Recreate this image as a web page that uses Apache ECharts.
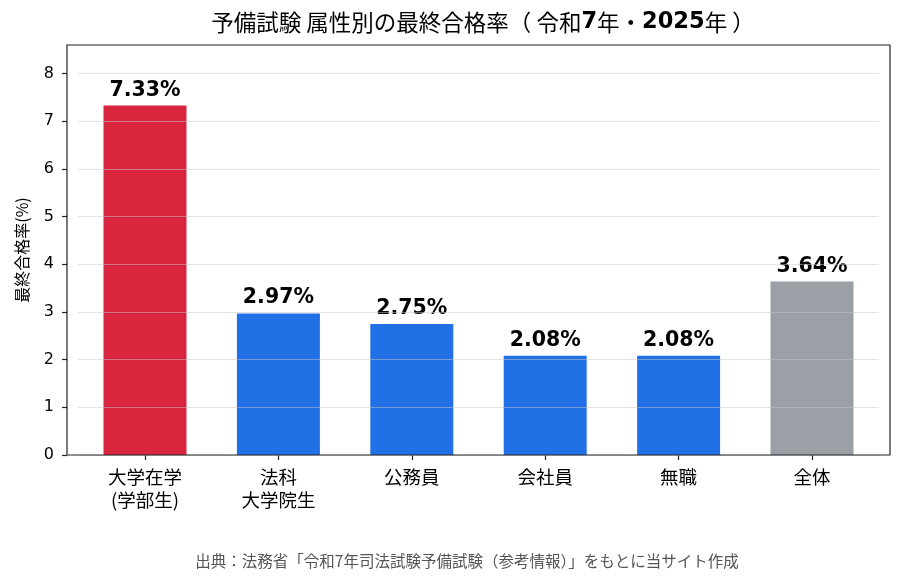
<!DOCTYPE html>
<html>
<head>
<meta charset="utf-8">
<script src="https://cdn.jsdelivr.net/npm/echarts@6/dist/echarts.min.js"></script>
<style>
  html, body { margin: 0; padding: 0; background: #fff; }
  #main { width: 905px; height: 580px; }
</style>
</head>
<body>
<div id="main"></div>
<script>
// 属性別の最終合格率
const categories = ['大学在学\n(学部生)', '法科\n大学院生', '公務員', '会社員', '無職', '全体']
const rates = [7.33, 2.97, 2.75, 2.08, 2.08, 3.64]
const barColors = ['#D7263D', '#2170E6', '#2170E6', '#2170E6', '#2170E6', '#9AA0A6']
const yTicks = [0, 1, 2, 3, 4, 5, 6, 7, 8]

const latin = "'DejaVu Sans', 'Noto Sans CJK JP', sans-serif"
const cjk = "'Noto Sans CJK JP', 'DejaVu Sans', sans-serif"

const chart = echarts.init(document.getElementById('main'), null, { renderer: 'canvas' })

const option = {
  backgroundColor: '#fff',
  animation: false,
  title: [{
    text: '{c|予備試験 属性別の最終合格率（ 令和}{b|7}{c|年・}{b|2025}{c|年 ）}',
    left: 478,
    top: 6,
    textAlign: 'center',
    textStyle: {
      rich: {
        c: { fontFamily: cjk, fontSize: 22.5, fontWeight: 'normal', color: '#000' },
        b: { fontFamily: latin, fontSize: 22.5, fontWeight: 'bold', color: '#000' }
      }
    }
  }, {
    text: '出典：法務省「令和7年司法試験予備試験（参考情報）」をもとに当サイト作成',
    left: 462,
    top: 548,
    textAlign: 'center',
    textStyle: { fontFamily: cjk, fontSize: 15.5, fontWeight: 'normal', color: '#555' }
  }],
  grid: {
    left: 78.3,
    right: 26.3,
    top: 45,
    bottom: 125
  },
  graphic: [{
    type: 'rect',
    shape: { x: 67, y: 45, width: 823, height: 410 },
    style: { fill: 'none', stroke: '#222', lineWidth: 1.2 },
    z: 100
  }],
  xAxis: {
    type: 'category',
    data: categories,
    axisLine: { show: false },
    axisTick: { show: true, alignWithLabel: true, length: 5, lineStyle: { color: '#222', width: 1.2 } },
    axisLabel: {
      fontFamily: cjk,
      fontSize: 18.5,
      color: '#000',
      margin: 10,
      lineHeight: 23
    }
  },
  yAxis: {
    type: 'value',
    min: 0,
    max: 8.6,
    interval: 1,
    offset: 11.3,
    z: 3,
    name: '最終合格率(%)',
    nameLocation: 'middle',
    nameRotate: 90,
    nameGap: 37,
    nameTextStyle: { fontFamily: cjk, fontSize: 16, color: '#000' },
    axisLine: { show: false },
    axisTick: { show: true, length: 5, customValues: yTicks, lineStyle: { color: '#222', width: 1.2 } },
    axisLabel: {
      fontFamily: latin,
      fontSize: 16,
      color: '#000',
      margin: 13,
      customValues: yTicks
    },
    splitLine: { show: true, lineStyle: { color: 'rgba(200,200,200,0.5)', width: 1.2 } }
  },
  series: [{
    type: 'bar',
    barWidth: 83,
    data: rates.map((v, i) => ({ value: v, itemStyle: { color: barColors[i] } })),
    label: {
      show: true,
      position: 'top',
      distance: 5,
      fontFamily: latin,
      fontSize: 20.5,
      fontWeight: 'bold',
      color: '#000',
      formatter: p => p.value.toFixed(2) + '%'
    }
  }]
}

chart.setOption(option)
</script>
</body>
</html>
